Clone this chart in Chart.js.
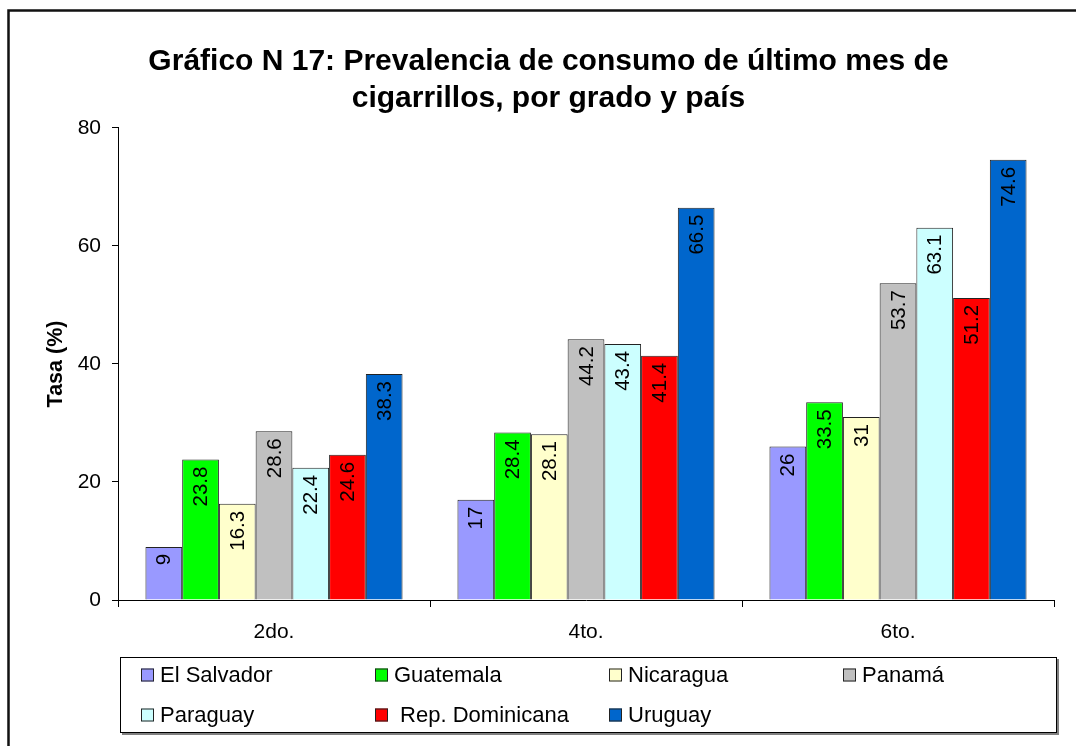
<!DOCTYPE html>
<html>
<head>
<meta charset="utf-8">
<script src="https://cdn.jsdelivr.net/npm/chart.js@4/dist/chart.umd.min.js"></script>
<style>
  html, body { margin: 0; padding: 0; background: #fff; }
  #wrap { position: relative; width: 1076px; height: 746px; }
</style>
</head>
<body>
<div id="wrap"><canvas id="chart" width="1076" height="746"></canvas></div>
<script>
// data
const grades = ['2do.', '4to.', '6to.'];
const countries = ['El Salvador', 'Guatemala', 'Nicaragua', 'Panamá', 'Paraguay', ' Rep. Dominicana', 'Uruguay'];
const elSalvador = [9, 17, 26];
const guatemala = [23.8, 28.4, 33.5];
const nicaragua = [16.3, 28.1, 31];
const panama = [28.6, 44.2, 53.7];
const paraguay = [22.4, 43.4, 63.1];
const repDominicana = [24.6, 41.4, 51.2];
const uruguay = [38.3, 66.5, 74.6];
const yTicks = [0, 20, 40, 60, 80];

const colors = ['#9999FF', '#00FF00', '#FFFFCC', '#C0C0C0', '#CCFFFF', '#FF0000', '#0066CC'];
const series = [elSalvador, guatemala, nicaragua, panama, paraguay, repDominicana, uruguay];
const FONT = '"Liberation Sans", Arial, sans-serif';

const datasets = series.map((vals, i) => ({
    label: countries[i],
    data: vals,
    backgroundColor: colors[i],
    borderColor: '#222',
    borderWidth: 1,
    borderSkipped: 'bottom',
    categoryPercentage: 0.824,
    barPercentage: 1.0
}));

// outer frame (left and top edges only are visible in the original)
const framePlugin = {
    id: 'frame',
    beforeDraw(chart) {
        const ctx = chart.ctx;
        ctx.save();
        ctx.fillStyle = '#fff';
        ctx.fillRect(0, 0, chart.width, chart.height);
        ctx.strokeStyle = '#111';
        ctx.lineWidth = 2.5;
        ctx.beginPath();
        ctx.moveTo(8.5, chart.height);
        ctx.lineTo(8.5, 10.5);
        ctx.lineTo(chart.width, 10.5);
        ctx.stroke();
        ctx.restore();
    }
};

// values written vertically inside the top of each bar
const barLabels = {
    id: 'barLabels',
    afterDatasetsDraw(chart) {
        const ctx = chart.ctx;
        ctx.save();
        ctx.font = '20.5px ' + FONT;
        ctx.fillStyle = '#000';
        ctx.textAlign = 'right';
        ctx.textBaseline = 'middle';
        chart.data.datasets.forEach((ds, di) => {
            chart.getDatasetMeta(di).data.forEach((bar, i) => {
                ctx.save();
                ctx.translate(bar.x + 1, bar.y + 7);
                ctx.rotate(-Math.PI / 2);
                ctx.fillText(String(ds.data[i]), 0, 0);
                ctx.restore();
            });
        });
        ctx.restore();
    }
};

// boxed legend, 4 columns, under the axis
const boxLegend = {
    id: 'boxLegend',
    afterDraw(chart) {
        const ctx = chart.ctx;
        const bx = 120, by = 657, bw = 937, bh = 76;
        ctx.save();
        ctx.fillStyle = '#808080';
        ctx.fillRect(bx + 2, by + 2, bw, bh);
        ctx.fillStyle = '#fff';
        ctx.fillRect(bx, by, bw, bh);
        ctx.strokeStyle = '#000';
        ctx.lineWidth = 1;
        ctx.strokeRect(bx + 0.5, by + 0.5, bw - 1, bh - 1);
        ctx.font = '22px ' + FONT;
        ctx.textBaseline = 'middle';
        ctx.textAlign = 'left';
        chart.data.datasets.forEach((ds, i) => {
            const col = i % 4, row = Math.floor(i / 4);
            const sx = 141 + col * 234;
            const sy = 675 + row * 40;
            ctx.fillStyle = ds.backgroundColor;
            ctx.fillRect(sx, sy - 6.5, 13, 13);
            ctx.strokeStyle = '#222';
            ctx.strokeRect(sx + 0.5, sy - 6, 12, 12);
            ctx.fillStyle = '#000';
            ctx.fillText(ds.label, sx + 19, sy + 1);
        });
        ctx.restore();
    }
};

new Chart(document.getElementById('chart'), {
    type: 'bar',
    data: { labels: grades, datasets: datasets },
    options: {
        responsive: false,
        animation: false,
        devicePixelRatio: 1,
        layout: { padding: { left: 43, right: 22, top: 0, bottom: 96 } },
        plugins: {
            legend: { display: false },
            tooltip: { enabled: false },
            title: {
                display: true,
                text: ['Gráfico N 17: Prevalencia de consumo de último mes de', 'cigarrillos, por grado y país'],
                color: '#000',
                font: { family: FONT, size: 30, weight: 'bold', lineHeight: 1.233 },
                padding: { top: 43, bottom: 11 }
            }
        },
        scales: {
            x: {
                offset: true,
                afterFit(scale) { scale.height = 50; },
                grid: { display: true, offset: true, drawOnChartArea: false, color: '#000', tickLength: 7 },
                border: { display: true, color: '#000', width: 1 },
                ticks: { color: '#000', padding: 13, font: { family: FONT, size: 21 } }
            },
            y: {
                min: 0,
                max: 80,
                afterFit(scale) { scale.width = 75; },
                afterBuildTicks(scale) { scale.ticks = yTicks.map(v => ({ value: v })); },
                grid: { display: true, drawOnChartArea: false, color: '#000', tickLength: 6 },
                border: { display: true, color: '#000', width: 1 },
                ticks: { color: '#000', padding: 11, font: { family: FONT, size: 21 } },
                title: {
                    display: true,
                    text: 'Tasa (%)',
                    color: '#000',
                    padding: 0,
                    font: { family: FONT, size: 21.5, weight: 'bold' }
                }
            }
        }
    },
    plugins: [framePlugin, barLabels, boxLegend]
});
</script>
</body>
</html>
